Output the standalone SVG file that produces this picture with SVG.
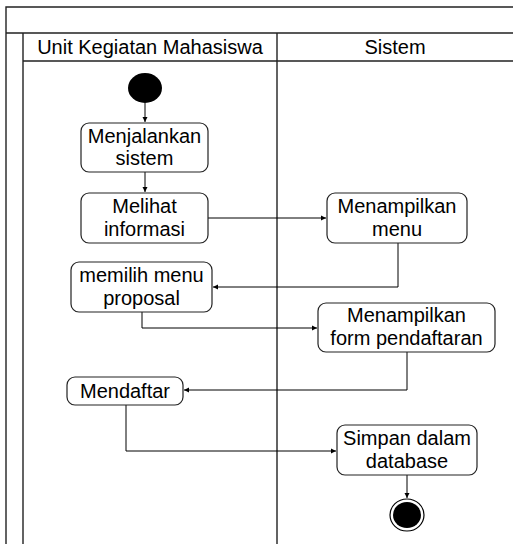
<svg xmlns="http://www.w3.org/2000/svg" width="513" height="544" viewBox="0 0 513 544">
<style>
.frame{fill:none;stroke:#222;stroke-width:1.4}
.node rect{fill:#fff;stroke:#222;stroke-width:1.2}
text{font-family:"Liberation Sans",Arial,sans-serif;font-size:20px;fill:#000;text-anchor:middle}
.conn{fill:none;stroke:#000;stroke-width:1}
</style>
<defs>
<marker id="ah" markerWidth="6" markerHeight="6" refX="5" refY="3" orient="auto" markerUnits="userSpaceOnUse">
<path d="M0,0.5 L5,3 L0,5.5 Z" fill="#000"/>
</marker>
</defs>
<rect x="0" y="0" width="513" height="544" fill="#fff"/>
<g id="frame">
<path class="frame" d="M6,544 V7 H513 M6,33 H513 M23,33 V544 M23,61 H513 M277,33 V544"/>
<text x="150" y="54">Unit Kegiatan Mahasiswa</text>
<text x="395" y="54">Sistem</text>
</g>
<g id="connectors">
<path class="conn" d="M145,103 V122" marker-end="url(#ah)"/>
<path class="conn" d="M145,172 V192" marker-end="url(#ah)"/>
<path class="conn" d="M208,218 H326" marker-end="url(#ah)"/>
<path class="conn" d="M398,243 V287 H213" marker-end="url(#ah)"/>
<path class="conn" d="M142,312 V328 H317" marker-end="url(#ah)"/>
<path class="conn" d="M407,352 V390 H184" marker-end="url(#ah)"/>
<path class="conn" d="M126,405 V451 H336" marker-end="url(#ah)"/>
<path class="conn" d="M407,475 V498" marker-end="url(#ah)"/>
</g>
<g id="start">
<ellipse cx="145" cy="88" rx="17" ry="15" fill="#000"/>
</g>
<g id="n1" class="node">
<rect x="81" y="123" width="127" height="49" rx="8"/>
<text x="144.5" y="143">Menjalankan</text>
<text x="144.5" y="165">sistem</text>
</g>
<g id="n2" class="node">
<rect x="81" y="193" width="127" height="50" rx="8"/>
<text x="144.5" y="213">Melihat</text>
<text x="144.5" y="236">informasi</text>
</g>
<g id="n3" class="node">
<rect x="327" y="193" width="140" height="50" rx="8"/>
<text x="397" y="213">Menampilkan</text>
<text x="397" y="236">menu</text>
</g>
<g id="n4" class="node">
<rect x="71" y="262" width="141" height="50" rx="8"/>
<text x="141.5" y="282">memilih menu</text>
<text x="141.5" y="305">proposal</text>
</g>
<g id="n5" class="node">
<rect x="318" y="303" width="177" height="49" rx="8"/>
<text x="406.5" y="322">Menampilkan</text>
<text x="406.5" y="345">form pendaftaran</text>
</g>
<g id="n6" class="node">
<rect x="67" y="377" width="116" height="28" rx="8"/>
<text x="125" y="398">Mendaftar</text>
</g>
<g id="n7" class="node">
<rect x="337" y="425" width="140" height="50" rx="8"/>
<text x="407" y="445">Simpan dalam</text>
<text x="407" y="468">database</text>
</g>
<g id="end">
<ellipse cx="407" cy="515" rx="17" ry="16" fill="#fff" stroke="#000" stroke-width="1.2"/>
<ellipse cx="407" cy="515" rx="14" ry="13" fill="#000"/>
</g>
</svg>
